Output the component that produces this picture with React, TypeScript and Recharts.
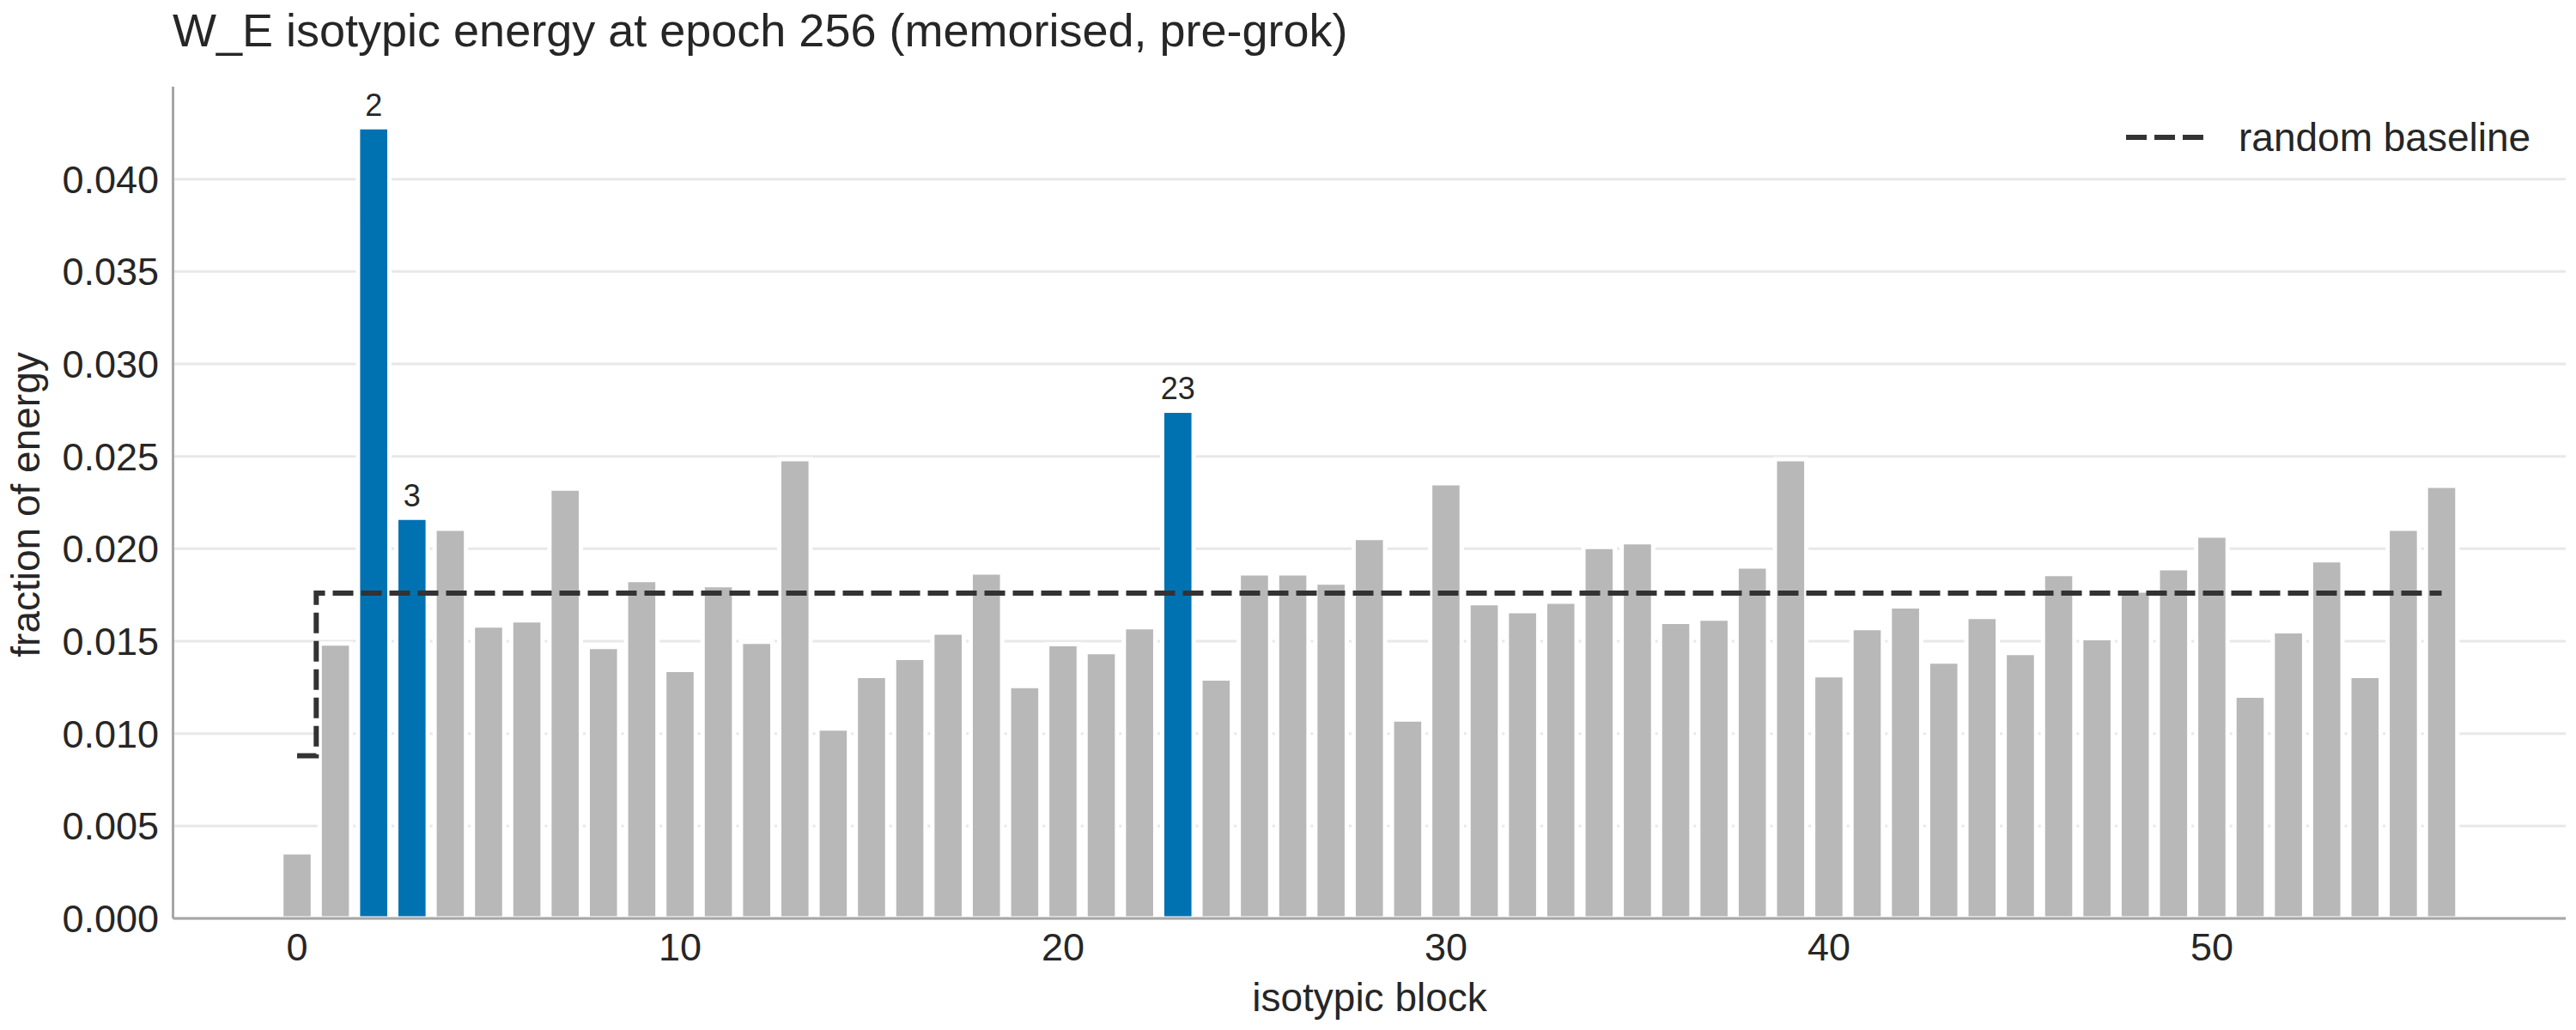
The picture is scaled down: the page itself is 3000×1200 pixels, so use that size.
import React from 'react';
import { ComposedChart, Bar, Line, XAxis, YAxis, CartesianGrid, Cell, Legend, LabelList } from 'recharts';

const blocks = [
  0, 1, 2, 3, 4, 5, 6, 7, 8, 9, 10, 11, 12, 13, 14, 15, 16, 17, 18, 19,
  20, 21, 22, 23, 24, 25, 26, 27, 28, 29, 30, 31, 32, 33, 34, 35, 36, 37, 38, 39,
  40, 41, 42, 43, 44, 45, 46, 47, 48, 49, 50, 51, 52, 53, 54, 55, 56,
];

const energy = [
  0.00358, 0.01487, 0.0428, 0.02168, 0.02108, 0.01585, 0.01613, 0.02326, 0.01469, 0.01831,
  0.01344, 0.01803, 0.01496, 0.02484, 0.01028, 0.01312, 0.01409, 0.01547, 0.01872, 0.01257,
  0.01484, 0.01441, 0.01576, 0.02747, 0.01298, 0.01867, 0.01867, 0.01817, 0.02058, 0.01076,
  0.02354, 0.01705, 0.01663, 0.01714, 0.0201, 0.02035, 0.01604, 0.01622, 0.01904, 0.02484,
  0.01315, 0.01571, 0.01688, 0.0139, 0.01631, 0.01436, 0.01863, 0.01516, 0.01774, 0.01895,
  0.02071, 0.01205, 0.01553, 0.01938, 0.01312, 0.02108, 0.0234,
];

const baseline = [
  0.0088, 0.0176, 0.0176, 0.0176, 0.0176, 0.0176, 0.0176, 0.0176, 0.0176, 0.0176,
  0.0176, 0.0176, 0.0176, 0.0176, 0.0176, 0.0176, 0.0176, 0.0176, 0.0176, 0.0176,
  0.0176, 0.0176, 0.0176, 0.0176, 0.0176, 0.0176, 0.0176, 0.0176, 0.0176, 0.0176,
  0.0176, 0.0176, 0.0176, 0.0176, 0.0176, 0.0176, 0.0176, 0.0176, 0.0176, 0.0176,
  0.0176, 0.0176, 0.0176, 0.0176, 0.0176, 0.0176, 0.0176, 0.0176, 0.0176, 0.0176,
  0.0176, 0.0176, 0.0176, 0.0176, 0.0176, 0.0176, 0.0176,
];

const highlighted = [2, 3, 23];

const xTicks = [0, 10, 20, 30, 40, 50];
const yTicks = [0, 0.005, 0.01, 0.015, 0.02, 0.025, 0.03, 0.035, 0.04];

const TITLE = 'W_E isotypic energy at epoch 256 (memorised, pre-grok)';
const X_LABEL = 'isotypic block';
const Y_LABEL = 'fraction of energy';
const LEGEND_LABEL = 'random baseline';

const data = blocks.map((b, i) => ({ block: b, energy: energy[i], baseline: baseline[i] }));

const TEXT = '#262626';
const GRAY = '#b8b8b8';
const BLUE = '#0072b2';
const LINE = '#333333';
const FONT = '"Liberation Sans", Arial, Helvetica, sans-serif';

const renderBarLabel = (props: any) => {
  const { x, y, width, index } = props;
  const b = blocks[index];
  if (!highlighted.includes(b)) return null;
  return (
    <text x={Number(x) + Number(width) / 2} y={Number(y) - 13} textAnchor="middle" fontSize={36} fill={TEXT}>
      {String(b)}
    </text>
  );
};

const renderLegend = () => (
  <svg width={500} height={60} style={{ display: 'block' }}>
    <line x1={6} x2={97} y1={30} y2={30} stroke={LINE} strokeWidth={6} strokeDasharray="24 9" />
    <text x={137} y={30} dy="0.35em" fontSize={46} fill={TEXT} fontFamily={FONT}>
      {LEGEND_LABEL}
    </text>
  </svg>
);

export default function App() {
  return (
    <div style={{ position: 'absolute', left: 0, top: 0, width: 3000, height: 1200, background: '#fff', fontFamily: FONT }}>
      <ComposedChart
        width={3000}
        height={1200}
        data={data}
        margin={{ top: 101, right: 12, bottom: 0, left: 0 }}
      >
        <CartesianGrid horizontal vertical={false} horizontalValues={yTicks} stroke="#e8e8e8" strokeWidth={3} />
        <XAxis
          dataKey="block"
          type="number"
          domain={[-3.24, 59.24]}
          allowDataOverflow
          ticks={xTicks}
          tickLine={false}
          tickMargin={11}
          height={130}
          axisLine={{ stroke: '#a6a6a6', strokeWidth: 3 }}
          tick={{ fontSize: 45, fill: TEXT }}
        />
        <YAxis
          type="number"
          domain={[0, 0.045]}
          allowDataOverflow
          ticks={yTicks}
          tickFormatter={(v: number) => v.toFixed(3)}
          tickLine={false}
          tickMargin={10.5}
          width={201.5}
          axisLine={{ stroke: '#a6a6a6', strokeWidth: 3 }}
          tick={{ fontSize: 45, fill: TEXT }}
        />
        <Bar dataKey="energy" barSize={36.6} stroke="#ffffff" strokeWidth={5} isAnimationActive={false} legendType="none">
          {data.map((d) => (
            <Cell key={d.block} fill={highlighted.includes(d.block) ? BLUE : GRAY} />
          ))}
          <LabelList dataKey="energy" content={renderBarLabel} />
        </Bar>
        <Line
          type="step"
          dataKey="baseline"
          stroke={LINE}
          strokeWidth={6}
          strokeDasharray="24 9"
          dot={false}
          activeDot={false}
          isAnimationActive={false}
          legendType="none"
        />
        <Legend
          layout="vertical"
          align="center"
          verticalAlign="middle"
          wrapperStyle={{ left: 2470, top: 130, width: 500, height: 60 }}
          content={renderLegend}
        />
        <text x={201} y={54} fontSize={54} fill={TEXT}>
          {TITLE}
        </text>
        <text x={1595} y={1178} fontSize={46} fill={TEXT} textAnchor="middle">
          {X_LABEL}
        </text>
        <text x={46} y={588} fontSize={46} fill={TEXT} textAnchor="middle" transform="rotate(-90 46 588)">
          {Y_LABEL}
        </text>
      </ComposedChart>
    </div>
  );
}
